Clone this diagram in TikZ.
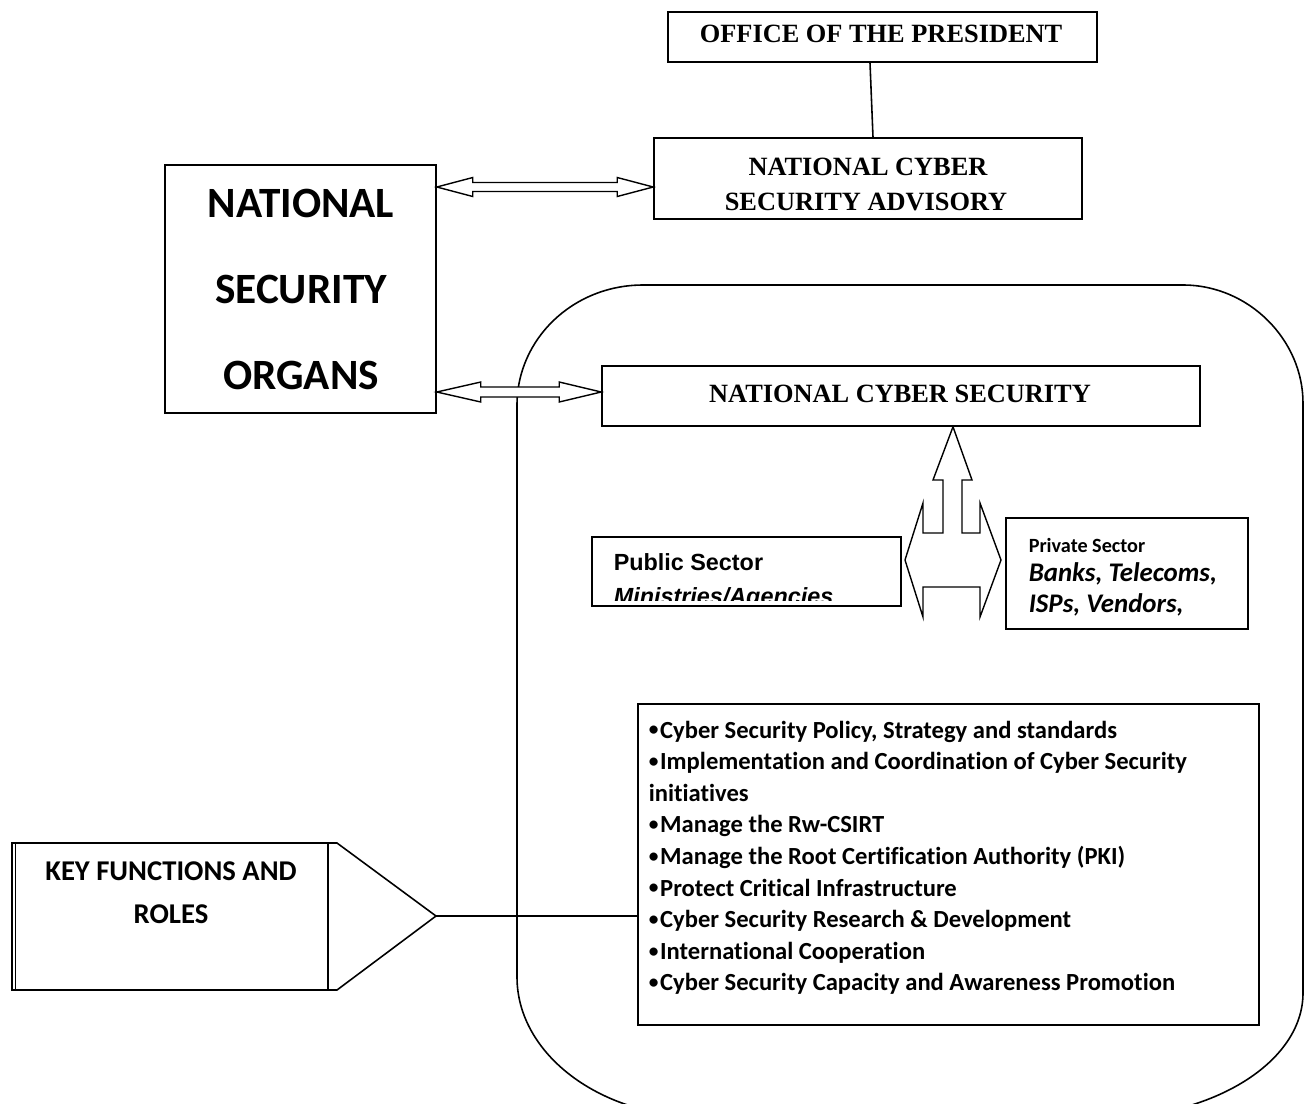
\documentclass[tikz,border=0pt]{standalone}
\usepackage{fontspec}
\setmainfont{Liberation Serif}
\newfontfamily\calf[Ligatures=NoCommon]{Carlito}
\newfontfamily\arialf{Liberation Sans}
\newcommand\fbul{\raisebox{1.2pt}{\fontsize{11}{11}\selectfont•}\hspace{1pt}}
\usetikzlibrary{calc}
\begin{document}
\begin{tikzpicture}[x=0.02cm,y=-0.02cm,line width=0.9pt,
  sz/.style 2 args={draw,inner sep=0,minimum width=#1*0.02cm,minimum height=#2*0.02cm},
  timestxt/.style={font=\fontsize{15}{18}\selectfont\bfseries,anchor=base,inner sep=0},
  nsotxt/.style={font=\calf\fontsize{24.6}{29}\selectfont\bfseries,anchor=base,inner sep=0},
  keytxt/.style={font=\calf\fontsize{16.3}{19}\selectfont\bfseries,anchor=base,inner sep=0},
  fitem/.style={font=\calf\fontsize{14}{17}\selectfont\bfseries,anchor=base west,inner sep=0},
  hollow/.style={draw,fill=white,line width=0.8pt,line join=miter}]
\clip (0,0) rectangle (1309,1103);
\fill[white] (0,0) rectangle (1309,1103);

% container
\draw (517,977) -- (517,405) .. controls (517,339) and (573,285) .. (643,285)
  -- (1183,285) .. controls (1249,285) and (1303,340) .. (1303,403)
  -- (1303,993) .. controls (1303,1062) and (1213,1118) .. (1103,1118)
  -- (703,1117) .. controls (600,1117) and (517,1054) .. (517,977);

% boxes
\node[sz={429}{50}] (office) at (882.5,37) {};
\node[timestxt] (officet) at (881,42) {OFFICE OF THE PRESIDENT};

\node[sz={428}{81}] (adv) at (868,178.5) {};
\node[timestxt] (advt1) at (868,175) {NATIONAL CYBER};
\node[timestxt] (advt2) at (866,210) {SECURITY ADVISORY};

\node[sz={271}{248}] (nso) at (300.5,289) {};
\node[nsotxt] (nso1) at (301,217.5) {NATIONAL};
\node[nsotxt] (nso2) at (301,303.5) {SECURITY};
\node[nsotxt] (nso3) at (301,389.5) {ORGANS};

\node[sz={598}{60}] (ncs) at (901,396) {};
\node[timestxt] (ncst) at (900,402) {NATIONAL CYBER SECURITY};

\node[sz={309}{69}] (pub) at (746.5,571.5) {};
\begin{scope}
\clip (593,538) rectangle (900,600);
\node[font=\arialf\fontsize{13.3}{16}\selectfont\bfseries,anchor=base west,inner sep=0] (pub1) at (613,570) {Public Sector};
\node[font=\arialf\fontsize{13.3}{16}\selectfont\bfseries\itshape,anchor=base west,inner sep=0] (pub2) at (613,604) {Ministries/Agencies};
\end{scope}

\node[sz={242}{111}] (priv) at (1127,573.5) {};
\node[font=\calf\fontsize{11.5}{14}\selectfont\bfseries,anchor=base west,inner sep=0] (priv1) at (1028,552) {Private Sector};
\node[font=\calf\fontsize{15.3}{18}\selectfont\bfseries\itshape,anchor=base west,inner sep=0] (priv2) at (1028,581) {Banks, Telecoms,};
\node[font=\calf\fontsize{15.3}{18}\selectfont\bfseries\itshape,anchor=base west,inner sep=0] (priv3) at (1028,612) {ISPs, Vendors,};

\node[sz={621}{321}] (func) at (948.5,864.5) {};
\node[fitem] (f1) at (648,738) {\fbul Cyber Security Policy, Strategy and standards};
\node[fitem] (f2) at (648,769.6) {\fbul Implementation and Coordination of Cyber Security};
\node[fitem] (f3) at (648,801.2) {initiatives};
\node[fitem] (f4) at (648,832.8) {\fbul Manage the Rw-CSIRT};
\node[fitem] (f5) at (648,864.4) {\fbul Manage the Root Certification Authority (PKI)};
\node[fitem] (f6) at (648,896) {\fbul Protect Critical Infrastructure};
\node[fitem] (f7) at (648,927.6) {\fbul Cyber Security Research \& Development};
\node[fitem] (f8) at (648,959.2) {\fbul International Cooperation};
\node[fitem] (f9) at (648,990.8) {\fbul Cyber Security Capacity and Awareness Promotion};

% key functions pentagon
\coordinate (keytip) at (436,916);
\draw (12,843) -- (337,843) -- (keytip) -- (337,990) -- (12,990) -- cycle;
\draw (15.5,843) -- (15.5,990);
\draw (328,843) -- (328,990);
\node[keytxt] (key1) at (171,880.5) {KEY FUNCTIONS AND};
\node[keytxt] (key2) at (171,923.5) {ROLES};

% connectors
\draw (office.south -| 870,0) -- (adv.north -| 873,0);
\draw (keytip) -- (keytip -| func.west);

% hollow double arrow 1
\coordinate (a1s) at (nso.east |- 0,187);
\coordinate (a1e) at (adv.west |- 0,187);
\draw[hollow] (a1s) -- ++(36,-9.5) -- ++(0,5) -- ($(a1e)+(-36,-4.5)$) -- ++(0,-5) -- (a1e)
  -- ++(-36,9.5) -- ++(0,-5) -- ($(a1s)+(36,4.5)$) -- ++(0,5) -- cycle;

% hollow double arrow 2
\coordinate (a2s) at (nso.east |- 0,392);
\coordinate (a2e) at (ncs.west |- 0,392);
\draw[hollow] (a2s) -- ++(44,-10) -- ++(0,5) -- ($(a2e)+(-42,-5)$) -- ++(0,-5) -- (a2e)
  -- ++(-42,10) -- ++(0,-5) -- ($(a2s)+(44,5)$) -- ++(0,5) -- cycle;

% three-way hollow arrow
\coordinate (tip) at (ncs.south -| 953,0);
\draw[hollow] (tip) -- (972,480) -- (962,480) -- (962,533) -- (980,533) -- (980,503)
  -- (1001,560) -- (980,617) -- (980,587) -- (923,587) -- (923,617) -- (905,560)
  -- (923,503) -- (923,533) -- (943,533) -- (943,480) -- (933,480) -- cycle;
\end{tikzpicture}
\end{document}
